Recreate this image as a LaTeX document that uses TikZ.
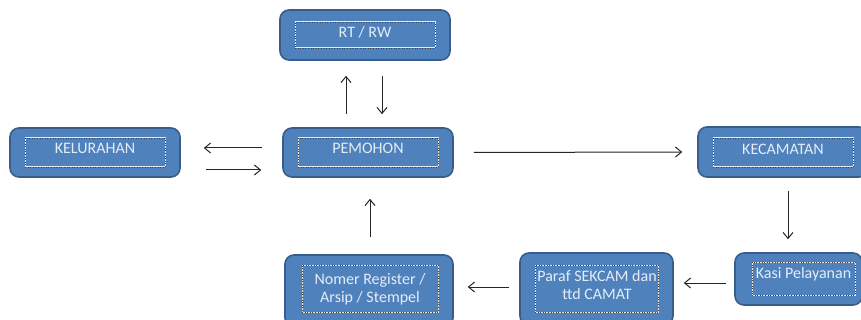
\documentclass[tikz,border=0pt]{standalone}
\usepackage{fontspec}
\setmainfont{Carlito}
\usepackage{xcolor}
\usetikzlibrary{arrows.meta}
\definecolor{boxblue}{HTML}{4F81BD}
\definecolor{boxedge}{HTML}{385D8A}
\definecolor{boxtext}{HTML}{E4ECF6}

\begin{document}
\begin{tikzpicture}[x=1pt,y=-1pt,
  outerbox/.style={draw=boxedge,line width=1.6pt,fill=boxblue,rounded corners=9pt,inner sep=0pt},
  dotbox/.style={draw=white!85!boxblue,line width=1pt,postaction={draw=black!75,dotted,line width=0.6pt},inner sep=0pt},
  boxlabel/.style={text=boxtext,font=\fontsize{16}{18}\selectfont,align=center,inner sep=0pt},
  arr/.style={-{Straight Barb[length=6pt,width=10pt]},line width=1pt,black!85}]
\useasboundingbox (0,0) rectangle (861,320);
\fill[white] (0,0) rectangle (861,320);
\clip (0,0) rectangle (861,320);

% boxes
\node[outerbox,minimum width=170pt,minimum height=50pt] (rtrw) at (365,35) {};
\node[dotbox,minimum width=140pt,minimum height=26pt] (rtrw-in) at (365,35) {};
\node[boxlabel,anchor=base] (rtrw-t) at (365,38) {RT / RW};

\node[outerbox,minimum width=170pt,minimum height=49pt] (kelurahan) at (95,152.5) {};
\node[dotbox,minimum width=140pt,minimum height=29pt] (kelurahan-in) at (95,152.5) {};
\node[boxlabel,anchor=base] (kelurahan-t) at (95,154) {KELURAHAN};

\node[outerbox,minimum width=170pt,minimum height=49pt] (pemohon) at (368,152.5) {};
\node[dotbox,minimum width=140pt,minimum height=29pt] (pemohon-in) at (368,152.5) {};
\node[boxlabel,anchor=base] (pemohon-t) at (368,154) {PEMOHON};

\node[outerbox,minimum width=170pt,minimum height=50pt] (kecamatan) at (783,152) {};
\node[dotbox,minimum width=140pt,minimum height=29pt] (kecamatan-in) at (783,152.5) {};
\node[boxlabel,anchor=base] (kecamatan-t) at (783,155) {KECAMATAN};

\node[outerbox,minimum width=127pt,minimum height=52pt] (kasi) at (798.5,279) {};
\node[dotbox,minimum width=103pt,minimum height=33pt] (kasi-in) at (803.5,278.5) {};
\node[boxlabel,anchor=base] (kasi-t) at (803.5,278.5) {Kasi Pelayanan};

\node[outerbox,minimum width=153pt,minimum height=72pt] (paraf) at (596.5,289) {};
\node[dotbox,minimum width=123pt,minimum height=47pt] (paraf-in) at (596.5,288.5) {};
\node[boxlabel] (paraf-t) at (597,285) {Paraf SEKCAM dan\\ttd CAMAT};

\node[outerbox,minimum width=168pt,minimum height=72pt] (nomer) at (369,291) {};
\node[dotbox,minimum width=136pt,minimum height=47pt] (nomer-in) at (370,288.5) {};
\node[boxlabel] (nomer-t) at (370,289) {Nomer Register /\\Arsip / Stempel};

% arrows
\draw[arr,shorten <=13pt,shorten >=15pt] ([xshift=-22pt]pemohon.north) -- ([xshift=-22pt]pemohon.north |- rtrw.south);
\draw[arr,shorten <=15pt,shorten >=13pt] ([xshift=17pt]rtrw.south) -- ([xshift=17pt]rtrw.south |- pemohon.north);
\draw[arr,shorten <=20pt,shorten >=23pt] ([yshift=4.5pt]pemohon.west) -- ([yshift=4.5pt]pemohon.west -| kelurahan.east);
\draw[arr,shorten <=25pt,shorten >=21pt] ([yshift=-17.5pt]kelurahan.east) -- ([yshift=-17.5pt]kelurahan.east -| pemohon.west);
\draw[arr,shorten <=20pt,shorten >=15pt] (pemohon.east) -- (kecamatan.west);
\draw[arr,shorten <=13pt,shorten >=13pt] ([xshift=5pt]kecamatan.south) -- ([xshift=5pt]kecamatan.south |- kasi.north);
\draw[arr,shorten <=8pt,shorten >=10pt] ([yshift=-4pt]kasi.west) -- ([yshift=-4pt]kasi.west -| paraf.east);
\draw[arr,shorten <=10pt,shorten >=14pt] ([yshift=2pt]paraf.west) -- ([yshift=2pt]paraf.west -| nomer.east);
\draw[arr,shorten <=17pt,shorten >=21pt] ([xshift=1pt]nomer.north) -- ([xshift=1pt]nomer.north |- pemohon.south);
\end{tikzpicture}
\end{document}
